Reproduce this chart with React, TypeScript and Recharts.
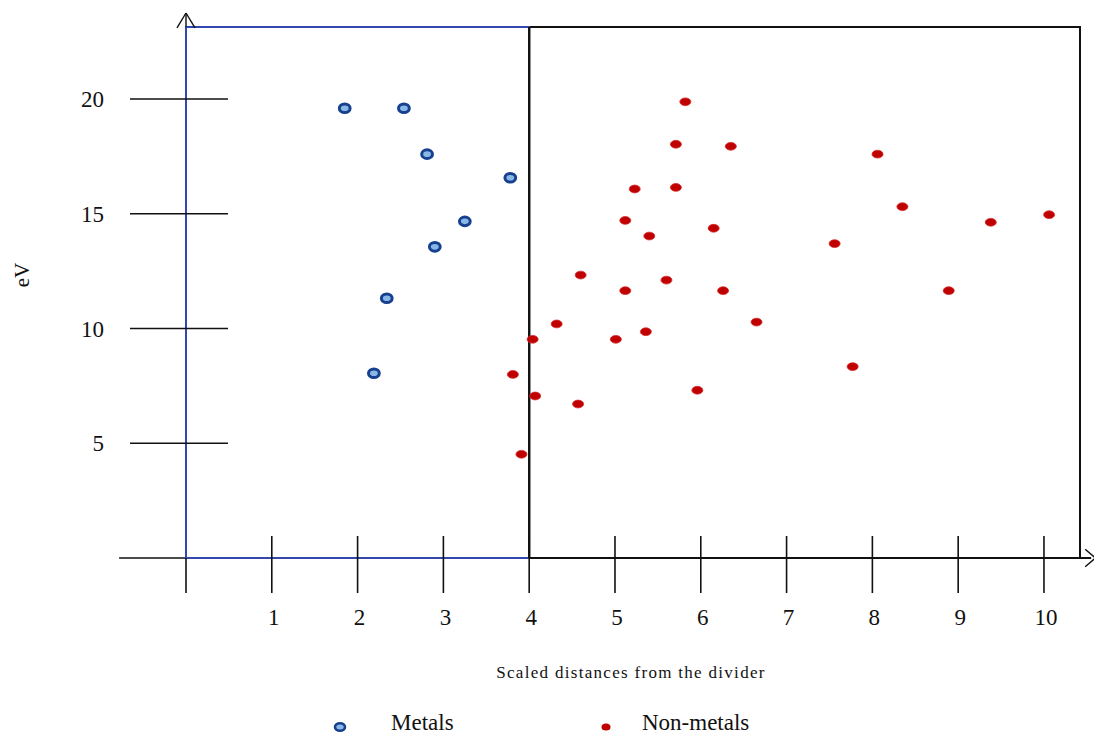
import React from 'react';
import { ScatterChart, Scatter, XAxis, YAxis, ReferenceArea, ReferenceLine } from 'recharts';

// tick values
const xTicks = [0, 1, 2, 3, 4, 5, 6, 7, 8, 9, 10];
const yTicks = [5, 10, 15, 20];

// metals (blue)
const metalsX = [1.85, 2.54, 2.81, 3.78, 3.25, 2.9, 2.34, 2.19];
const metalsY = [19.6, 19.6, 17.6, 16.57, 14.67, 13.56, 11.32, 8.05];

// non-metals (red)
const nonMetalsX = [
  5.82, 5.71, 6.35, 5.23, 5.71, 5.12, 5.4, 6.15, 4.6, 5.6, 5.12, 6.26, 4.32, 6.65, 4.04,
  5.01, 5.36, 3.81, 4.07, 4.57, 5.96, 3.91, 8.06, 8.35, 9.38, 10.06, 7.56, 8.89, 7.77,
];
const nonMetalsY = [
  19.88, 18.03, 17.94, 16.08, 16.15, 14.71, 14.03, 14.37, 12.33, 12.11, 11.65, 11.65, 10.2, 10.28, 9.53,
  9.53, 9.86, 8.0, 7.06, 6.71, 7.31, 4.52, 17.6, 15.31, 14.63, 14.96, 13.7, 11.65, 8.34,
];

const X_MAX = 10.42;
const Y_MAX = 23.14;
const DIVIDER = 4;

const metals = metalsX.map((x, i) => ({ x, y: metalsY[i] }));
const nonMetals = nonMetalsX.map((x, i) => ({ x, y: nonMetalsY[i] }));

const FONT = '"Liberation Serif", "Times New Roman", serif';
const INK = '#111';
const BLUE_LINE = '#3347b0';

const MetalDot = (props: any) => (
  <ellipse cx={props.cx} cy={props.cy} rx={5.4} ry={4.3} fill="#8ab8e6" stroke="#17408f" strokeWidth={3} />
);

const NonMetalDot = (props: any) => (
  <ellipse cx={props.cx} cy={props.cy} rx={5.5} ry={3.9} fill="#c00000" stroke="#d42a2a" strokeWidth={0.8} />
);

const XTick = (props: any) => {
  const { x, y, payload } = props;
  const isOrigin = payload.value === 0;
  return (
    <g>
      <line x1={x} x2={x} y1={isOrigin ? y : y - 22} y2={y + 35} stroke={INK} strokeWidth={1.6} />
      {!isOrigin && (
        <text x={x + 2} y={y + 67} textAnchor="middle" fontSize={23} fontFamily={FONT} fill={INK}>
          {payload.value}
        </text>
      )}
    </g>
  );
};

const YTick = (props: any) => {
  const { x, y, payload } = props;
  return (
    <g>
      <line x1={x - 56} x2={x + 42} y1={y} y2={y} stroke={INK} strokeWidth={1.6} />
      <text x={x - 82} y={y + 8} textAnchor="end" fontSize={23} fontFamily={FONT} fill={INK}>
        {payload.value}
      </text>
    </g>
  );
};

const App: React.FC = () => {
  return (
    <div style={{ position: 'absolute', left: 0, top: 0, width: 1094, height: 737, background: '#fff' }}>
      <ScatterChart width={1094} height={737} margin={{ top: 27, right: 14, bottom: 0, left: 0 }}>
        <XAxis
          type="number"
          dataKey="x"
          domain={[0, X_MAX]}
          ticks={xTicks}
          allowDataOverflow
          height={179}
          axisLine={false}
          tickLine={false}
          tickSize={0}
          tickMargin={0}
          tick={<XTick />}
          interval={0}
          label={{
            content: (p: any) => (
              <text
                x={p.viewBox.x + p.viewBox.width / 2 - 2}
                y={p.viewBox.y + 120}
                textAnchor="middle"
                fontSize={17}
                letterSpacing={1.3}
                fontFamily={FONT}
                fill={INK}
              >
                Scaled distances from the divider
              </text>
            ),
          }}
        />
        <YAxis
          type="number"
          dataKey="y"
          domain={[0, Y_MAX]}
          ticks={yTicks}
          allowDataOverflow
          width={186}
          axisLine={false}
          tickLine={false}
          tickSize={0}
          tickMargin={0}
          tick={<YTick />}
          interval={0}
          label={{
            content: (p: any) => (
              <text
                x={22}
                y={p.viewBox.y + 248}
                transform={`rotate(-90 22 ${p.viewBox.y + 248})`}
                textAnchor="middle"
                dominantBaseline="central"
                fontSize={21}
                fontFamily={FONT}
                fill={INK}
              >
                eV
              </text>
            ),
          }}
        />

        {/* metals and non-metals regions */}
        <ReferenceArea x1={DIVIDER} x2={X_MAX} y1={0} y2={Y_MAX} fill="none" stroke={INK} strokeWidth={2} ifOverflow="visible" />
        <ReferenceArea x1={0} x2={DIVIDER} y1={0} y2={Y_MAX} fill="none" stroke={BLUE_LINE} strokeWidth={1.8} ifOverflow="visible" />

        {/* x axis line with arrow: black outside the metals box, blue along it */}
        <ReferenceLine segment={[{ x: -0.78, y: 0 }, { x: 0, y: 0 }]} stroke={INK} strokeWidth={1.6} ifOverflow="visible" />
        <ReferenceLine segment={[{ x: 0, y: 0 }, { x: DIVIDER, y: 0 }]} stroke={BLUE_LINE} strokeWidth={2} ifOverflow="visible" />
        <ReferenceLine segment={[{ x: DIVIDER, y: 0 }, { x: 10.55, y: 0 }]} stroke={INK} strokeWidth={1.8} ifOverflow="visible" />
        <ReferenceLine segment={[{ x: 10.48, y: 0.38 }, { x: 10.6, y: 0 }]} stroke={INK} strokeWidth={1.4} ifOverflow="visible" />
        <ReferenceLine segment={[{ x: 10.48, y: -0.38 }, { x: 10.6, y: 0 }]} stroke={INK} strokeWidth={1.4} ifOverflow="visible" />

        {/* y axis: blue along the box, arrow on top */}
        <ReferenceLine segment={[{ x: 0, y: 0 }, { x: 0, y: Y_MAX }]} stroke={BLUE_LINE} strokeWidth={2} ifOverflow="visible" />
        <ReferenceLine segment={[{ x: 0, y: Y_MAX }, { x: 0, y: Y_MAX + 0.61 }]} stroke={INK} strokeWidth={1.4} ifOverflow="visible" />
        <ReferenceLine segment={[{ x: -0.105, y: Y_MAX - 0.04 }, { x: 0, y: Y_MAX + 0.61 }]} stroke={INK} strokeWidth={1.4} ifOverflow="visible" />
        <ReferenceLine segment={[{ x: 0.105, y: Y_MAX - 0.04 }, { x: 0, y: Y_MAX + 0.61 }]} stroke={INK} strokeWidth={1.4} ifOverflow="visible" />

        {/* divider */}
        <ReferenceLine x={DIVIDER} stroke={INK} strokeWidth={2.2} ifOverflow="visible" />

        <Scatter name="Metals" data={metals} shape={MetalDot} isAnimationActive={false} />
        <Scatter name="Non-metals" data={nonMetals} shape={NonMetalDot} isAnimationActive={false} />
      </ScatterChart>

      {/* legend */}
      <svg style={{ position: 'absolute', left: 332, top: 719 }} width={16} height={16}>
        <ellipse cx={8} cy={8} rx={5} ry={3.8} fill="#8ab8e6" stroke="#17408f" strokeWidth={2.6} />
      </svg>
      <div style={{ position: 'absolute', left: 391, top: 710, fontFamily: FONT, fontSize: 23, lineHeight: '26px', color: INK }}>
        Metals
      </div>
      <svg style={{ position: 'absolute', left: 598, top: 719 }} width={16} height={16}>
        <ellipse cx={8} cy={8} rx={4.5} ry={3.6} fill="#c00000" />
      </svg>
      <div style={{ position: 'absolute', left: 642, top: 710, fontFamily: FONT, fontSize: 23, lineHeight: '26px', color: INK }}>
        Non-metals
      </div>
    </div>
  );
};

export default App;
